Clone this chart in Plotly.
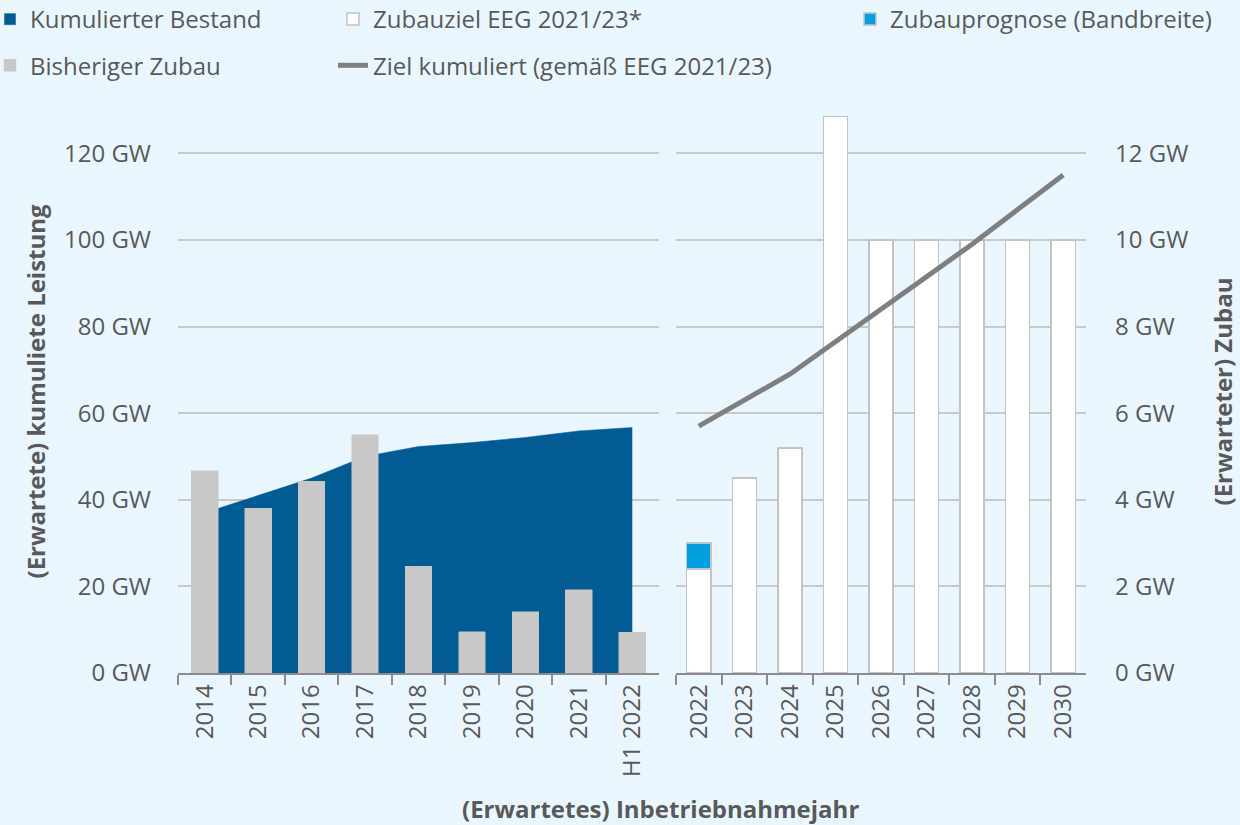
import plotly.graph_objects as go

# ---- data ----
hist_years = ["2014", "2015", "2016", "2017", "2018", "2019", "2020", "2021", "H1 2022"]
kumuliert_bestand = [37.0, 41.0, 45.0, 50.0, 52.3, 53.2, 54.4, 55.9, 56.7]   # GW, left axis
bisheriger_zubau = [4.67, 3.80, 4.43, 5.50, 2.47, 0.95, 1.41, 1.92, 0.94]      # GW, right axis

plan_years = ["2022", "2023", "2024", "2025", "2026", "2027", "2028", "2029", "2030"]
zubauziel = [2.4, 4.5, 5.2, 12.85, 10, 10, 10, 10, 10]                          # GW, right axis
prognose_years = ["2022"]
zubauprognose = [0.6]                                                           # GW band on top
ziel_kumuliert = [57, 63, 69, 76.5, 84, 91.5, 99, 107, 115]                     # GW, left axis

left_ticks = [0, 20, 40, 60, 80, 100, 120]
right_ticks = [0, 2, 4, 6, 8, 10, 12]

# ---- styles ----
BG = "#eaf6fe"
TXT = "#595959"
GRID = "#c9c9c9"
AXIS = "#8c8c8c"
BLUE = "#035b94"
FONT = "Open Sans"
FS = 24

fig = go.Figure()

fig.add_trace(go.Scatter(
    x=hist_years, y=kumuliert_bestand, name="Kumulierter Bestand",
    mode="lines", fill="tozeroy", fillcolor=BLUE,
    line=dict(color=BLUE, width=0.5), showlegend=False,
    xaxis="x", yaxis="y",
))
# legend entry (square swatch) for the area
fig.add_trace(go.Bar(
    x=[None], y=[None], name="Kumulierter Bestand",
    marker=dict(color=BLUE), xaxis="x", yaxis="y2",
    legend="legend", legendgroup="a",
))
fig.add_trace(go.Bar(
    x=hist_years, y=bisheriger_zubau, name="Bisheriger Zubau",
    marker=dict(color="#c8c8c8", line=dict(color="#c8c8c8", width=0.5)),
    width=0.5, xaxis="x", yaxis="y2", legend="legend", legendgroup="b",
))
fig.add_trace(go.Bar(
    x=plan_years, y=zubauziel, name="Zubauziel EEG 2021/23*",
    marker=dict(color="#ffffff", line=dict(color="#c3c3c3", width=1.5)),
    width=0.53, xaxis="x2", yaxis="y3", legend="legend2", legendgroup="c",
))
fig.add_trace(go.Bar(
    x=prognose_years, y=zubauprognose, name="Zubauprognose (Bandbreite)",
    marker=dict(color="#00a0e3", line=dict(color="#c3c3c3", width=1.5)),
    width=0.53, xaxis="x2", yaxis="y3", legend="legend3", legendgroup="e",
))
fig.add_trace(go.Scatter(
    x=plan_years, y=ziel_kumuliert, name="Ziel kumuliert (gemäß EEG 2021/23)",
    mode="lines", line=dict(color="#7f7f7f", width=5),
    xaxis="x2", yaxis="y4", legend="legend2", legendgroup="d",
))

L, R, T, B = 178, 154, 110, 152
W, H = 1240, 825
pw = W - L - R
ph = H - T - B

def px_x(p):
    return (p - L) / pw

def px_y(p):
    return (H - B - p) / ph

xcommon = dict(
    type="category", showline=True, linecolor=AXIS, linewidth=1.5,
    ticks="outside", tickson="boundaries", ticklen=10, tickcolor=AXIS, tickwidth=1.5,
    tickangle=-90, tickfont=dict(size=FS, color=TXT, family=FONT), showgrid=False,
    zeroline=False,
)

legcommon = dict(xanchor="left", yanchor="top", orientation="v",
                 bgcolor="rgba(0,0,0,0)", tracegroupgap=12,
                 font=dict(size=FS, color=TXT), itemwidth=30)

fig.update_layout(
    width=W, height=H,
    margin=dict(l=L, r=R, t=T, b=B, autoexpand=False),
    paper_bgcolor=BG, plot_bgcolor=BG,
    font=dict(family=FONT, size=FS, color=TXT),
    barmode="stack",
    xaxis=dict(domain=[0, px_x(659)], anchor="y", **xcommon),
    xaxis2=dict(domain=[px_x(676), 1], anchor="y3", **xcommon),
    yaxis=dict(anchor="x", range=[0, 130], tickvals=left_ticks,
               ticktext=[f"{v} GW" for v in left_ticks],
               showgrid=True, gridcolor=GRID, gridwidth=1.5, zeroline=False,
               ticks="", ticklabelstandoff=26,
               tickfont=dict(size=FS, color=TXT)),
    yaxis2=dict(anchor="x", overlaying="y", range=[0, 13], visible=False),
    yaxis3=dict(anchor="x2", side="right", range=[0, 13], tickvals=right_ticks,
                ticktext=[f"{v} GW" for v in right_ticks],
                showgrid=True, gridcolor=GRID, gridwidth=1.5, zeroline=False,
                ticks="", ticklabelstandoff=28,
                tickfont=dict(size=FS, color=TXT)),
    yaxis4=dict(anchor="x2", overlaying="y3", range=[0, 130], visible=False),
    showlegend=True,
    legend=dict(x=px_x(-10), y=px_y(-3), **legcommon),
    legend2=dict(x=px_x(333), y=px_y(-3), **legcommon),
    legend3=dict(x=px_x(850), y=px_y(-3), **legcommon),
    annotations=[
        dict(text="<b>(Erwartete) kumuliete Leistung</b>", textangle=-90,
             x=px_x(35), y=0.5, xref="paper", yref="paper",
             xanchor="center", yanchor="middle",
             showarrow=False, font=dict(size=FS, color=TXT)),
        dict(text="<b>(Erwarteter) Zubau</b>", textangle=-90,
             x=px_x(1222), y=0.5, xref="paper", yref="paper",
             xanchor="center", yanchor="middle",
             showarrow=False, font=dict(size=FS, color=TXT)),
        dict(text="<b>(Erwartetes) Inbetriebnahmejahr</b>",
             x=px_x(660), y=px_y(808), xref="paper", yref="paper",
             xanchor="center", yanchor="middle",
             showarrow=False, font=dict(size=FS, color=TXT)),
    ],
)

fig.write_html("out.html", config={"displayModeBar": False},
               post_script="document.body.style.margin='0';")
